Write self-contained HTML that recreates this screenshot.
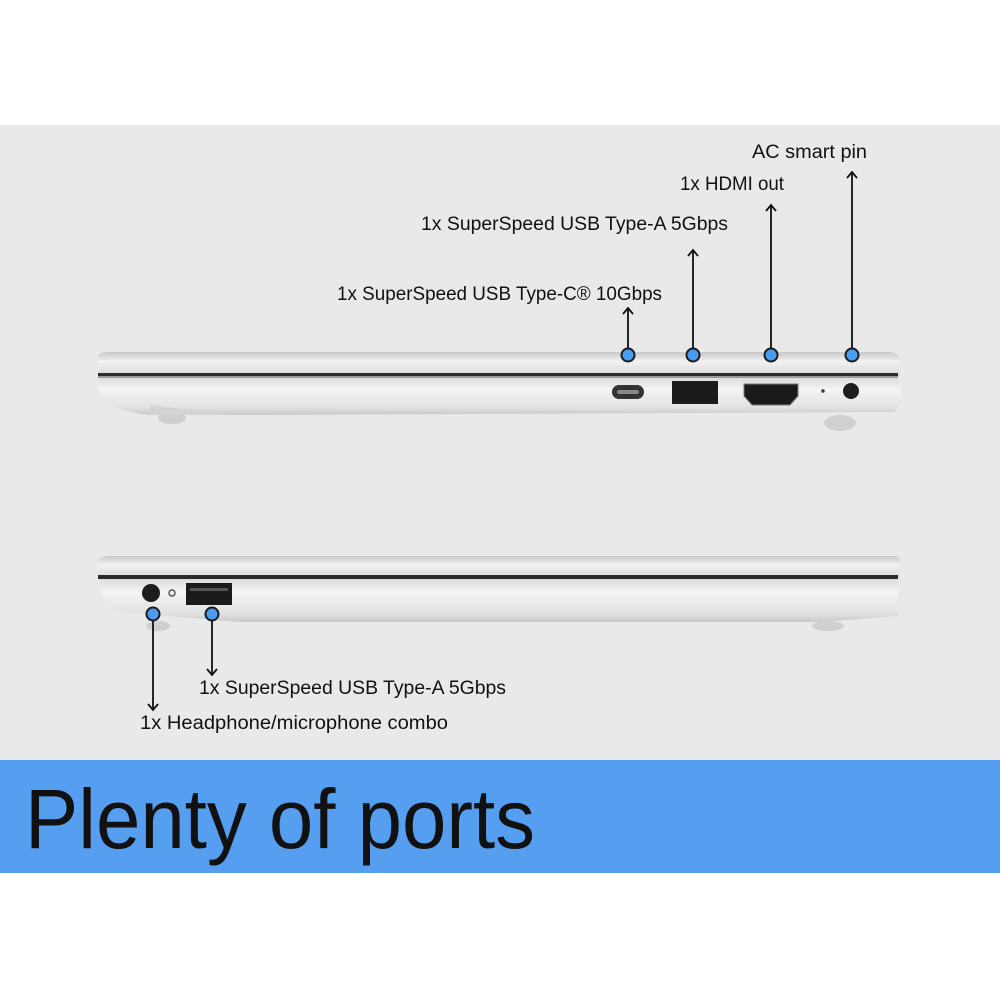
<!DOCTYPE html>
<html><head><style>
html,body{margin:0;padding:0;background:#fff;}
svg{display:block;}
text{font-family:"Liberation Sans",sans-serif;fill:#111;}
</style></head><body>
<svg width="1000" height="1000" viewBox="0 0 1000 1000" xmlns="http://www.w3.org/2000/svg">
<defs>
<linearGradient id="body" x1="0" y1="0" x2="0" y2="1">
<stop offset="0" stop-color="#dcdcdc"/><stop offset="0.3" stop-color="#f4f4f4"/><stop offset="0.8" stop-color="#e2e2e2"/><stop offset="1" stop-color="#c8c8c8"/>
</linearGradient>
<linearGradient id="lid" x1="0" y1="0" x2="0" y2="1">
<stop offset="0" stop-color="#c8c8c8"/><stop offset="0.4" stop-color="#f2f2f2"/><stop offset="1" stop-color="#d8d8d8"/>
</linearGradient>
</defs>
<rect x="0" y="125" width="1000" height="636" fill="#e9e9e9"/>
<rect x="0" y="760" width="1000" height="113" fill="#569ef0"/>
<text x="25" y="848" font-size="84" textLength="510" lengthAdjust="spacingAndGlyphs">Plenty of ports</text>

<!-- top laptop -->
<ellipse cx="172" cy="418" rx="14" ry="6" fill="#cfcfcf"/>
<ellipse cx="840" cy="423" rx="16" ry="8" fill="#d0d0d0"/>
<path d="M100,378 L898,378 Q905,395 895,412 L260,415 L150,415 Q105,410 98,392 Z" fill="url(#body)"/>
<path d="M150,405 L230,415 L150,415 Z" fill="#d4d4d4"/>
<path d="M98,356 Q99,352 110,352 L890,352 Q902,354 900,362 L900,376 L98,376 Z" fill="url(#lid)"/>
<rect x="98" y="373" width="800" height="4" fill="#2a2a2a"/>
<rect x="98" y="376" width="800" height="2" fill="#9a9a9a"/>
<rect x="612" y="385" width="32" height="14" rx="7" fill="#333"/>
<rect x="617" y="390" width="22" height="4" rx="2" fill="#888"/>
<rect x="672" y="381" width="46" height="23" fill="#1b1b1b"/>
<path d="M744,384 L798,384 L798,396 L790,405 L752,405 L744,396 Z" fill="#1b1b1b" stroke="#777" stroke-width="1"/>
<circle cx="851" cy="391" r="8" fill="#1d1d1d"/>
<circle cx="823" cy="391" r="1.7" fill="#333"/>

<!-- bottom laptop -->
<ellipse cx="158" cy="626" rx="12" ry="5" fill="#cfcfcf"/>
<ellipse cx="828" cy="626" rx="16" ry="5" fill="#d0d0d0"/>
<path d="M98,560 Q100,556 112,556 L896,556 Q902,558 900,566 L900,578 L98,578 Z" fill="url(#lid)"/>
<rect x="98" y="575" width="800" height="4" fill="#2a2a2a"/>
<path d="M100,579 L898,579 L898,616 L820,622 L240,622 L120,612 Q98,600 100,579 Z" fill="url(#body)"/>
<circle cx="151" cy="593" r="9" fill="#1d1d1d"/>
<circle cx="172" cy="593" r="3" fill="none" stroke="#555" stroke-width="1.5"/>
<rect x="186" y="583" width="46" height="22" fill="#1b1b1b"/>
<rect x="190" y="588" width="38" height="3" fill="#555"/>

<g stroke="#111" stroke-width="1.8" fill="none">
<line x1="628" y1="355" x2="628" y2="308"/><path d="M623,314 L628,308 L633,314"/>
<line x1="693" y1="355" x2="693" y2="250"/><path d="M688,256 L693,250 L698,256"/>
<line x1="771" y1="355" x2="771" y2="205"/><path d="M766,211 L771,205 L776,211"/>
<line x1="852" y1="355" x2="852" y2="172"/><path d="M847,178 L852,172 L857,178"/>
<line x1="153" y1="614" x2="153" y2="710"/><path d="M148,704 L153,710 L158,704"/>
<line x1="212" y1="614" x2="212" y2="675"/><path d="M207,669 L212,675 L217,669"/>
</g>
<g fill="#4a9cf0" stroke="#1a1a1a" stroke-width="2">
<circle cx="628" cy="355" r="6.5"/><circle cx="693" cy="355" r="6.5"/>
<circle cx="771" cy="355" r="6.5"/><circle cx="852" cy="355" r="6.5"/>
<circle cx="153" cy="614" r="6.5"/><circle cx="212" cy="614" r="6.5"/>
</g>
<g font-size="19">
<text x="752" y="158" textLength="115" lengthAdjust="spacingAndGlyphs">AC smart pin</text>
<text x="680" y="190" textLength="104" lengthAdjust="spacingAndGlyphs">1x HDMI out</text>
<text x="421" y="230" textLength="307" lengthAdjust="spacingAndGlyphs">1x SuperSpeed USB Type-A 5Gbps</text>
<text x="337" y="300" textLength="325" lengthAdjust="spacingAndGlyphs">1x SuperSpeed USB Type-C® 10Gbps</text>
<text x="199" y="694" textLength="307" lengthAdjust="spacingAndGlyphs">1x SuperSpeed USB Type-A 5Gbps</text>
<text x="140" y="729" textLength="308" lengthAdjust="spacingAndGlyphs">1x Headphone/microphone combo</text>
</g>
</svg>
</body></html>
